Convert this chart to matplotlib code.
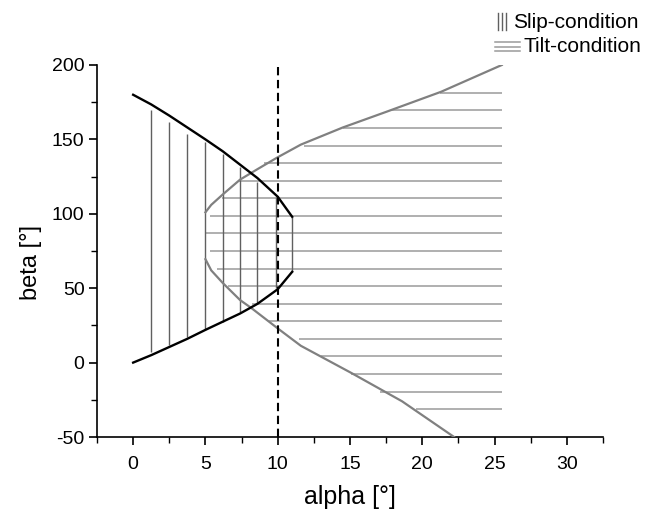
import matplotlib
matplotlib.use("Agg")
import matplotlib.pyplot as plt
from matplotlib.lines import Line2D
from matplotlib.ticker import MultipleLocator

plt.rcParams['font.family'] = ['Liberation Sans', 'DejaVu Sans']
plt.rcParams['axes.unicode_minus'] = False

# --- data ---
# slip-condition boundary (black)
slip_upper_alpha = [0, 1.25, 2.5, 3.75, 5, 6.2, 7.4, 8.6, 10, 11]
slip_upper_beta = [180, 173.5, 166, 158, 150, 142, 133, 124, 111.5, 98]
slip_lower_alpha = [0, 1.25, 2.5, 3.75, 5, 6.2, 7.4, 8.6, 10, 11]
slip_lower_beta = [0, 5, 10.5, 16, 22, 27.5, 33, 39.5, 49.3, 61]

# tilt-condition boundary (gray)
tilt_upper_alpha = [5, 5.4, 6.2, 7.4, 8.6, 10, 11.6, 14.5, 17.5, 21.3, 25.5]
tilt_upper_beta = [101, 106, 113, 123, 130, 138, 146.5, 158, 168.5, 182, 200]
tilt_lower_alpha = [5, 5.4, 6.2, 7.4, 8.2, 10, 11.6, 15.1, 18.6, 22.2]
tilt_lower_beta = [69.5, 62, 53.5, 42, 36.5, 23, 11.3, -7, -26, -50]

# slip hatching (vertical lines)
slip_alpha = [1.25, 2.5, 3.75, 5.0, 6.2, 7.4, 8.6, 9.85, 11.0]
slip_top = [170, 161.5, 153.5, 148.5, 140, 131.5, 121.5, 111.5, 98]
slip_bottom = [7, 12, 17, 22, 27.5, 34, 40, 50, 61]

# tilt hatching (horizontal lines)
tilt_beta = [181.4, 169.6, 157.7, 145.9, 134.1, 122.3, 110.5, 98.7, 86.8, 75.0,
             63.2, 51.4, 39.6, 27.8, 15.9, 4.1, -7.7, -19.5, -31.3]
tilt_start = [21.2, 17.9, 14.5, 11.8, 9.05, 7.3, 6.15, 5.35, 4.95, 5.35,
              5.8, 6.55, 8.25, 9.4, 11.5, 13.0, 15.05, 17.1, 19.55]
tilt_end = 25.5

limit_alpha = 10

xticks = [0, 5, 10, 15, 20, 25, 30]
yticks = [-50, 0, 50, 100, 150, 200]

# --- figure ---
fig = plt.figure(figsize=(6.46, 5.09), dpi=100)
ax = fig.add_axes([97/646, 1-437/509, (603-97)/646, (437-65)/509])

vcol = '#606060'
hcol = '#9a9a9a'
gcol = '#808080'

ax.vlines(slip_alpha, slip_bottom, slip_top, colors=vcol, lw=1.0, zorder=2)
ax.hlines(tilt_beta, tilt_start, tilt_end, colors=hcol, lw=1.1, zorder=1)

ax.plot(tilt_upper_alpha, tilt_upper_beta, color=gcol, lw=1.6, zorder=3)
ax.plot(tilt_lower_alpha, tilt_lower_beta, color=gcol, lw=1.6, zorder=3)
ax.plot(slip_upper_alpha, slip_upper_beta, color='black', lw=1.7, zorder=4)
ax.plot(slip_lower_alpha, slip_lower_beta, color='black', lw=1.7, zorder=4)

ax.axvline(limit_alpha, color='black', lw=1.5, dashes=(4, 2.2), zorder=5)

ax.set_xlim(-2.5, 32.5)
ax.set_ylim(-50, 200)
ax.set_xticks(xticks)
ax.set_yticks(yticks)
ax.xaxis.set_minor_locator(MultipleLocator(2.5))
ax.yaxis.set_minor_locator(MultipleLocator(25))
for s in ['top', 'right']:
    ax.spines[s].set_visible(False)
for s in ['left', 'bottom']:
    ax.spines[s].set_linewidth(1.2)
ax.tick_params(which='major', direction='out', length=6, width=1.2, labelsize=14)
ax.tick_params(which='minor', direction='out', length=4, width=1.0)
ax.tick_params(axis='x', pad=8)
ax.tick_params(axis='y', pad=3)

ax.set_xlabel('alpha [°]', fontsize=18)
ax.set_ylabel('beta [°]', fontsize=17)
ax.xaxis.set_label_coords(0.5, -0.128)
ax.yaxis.set_label_coords(-0.108, 0.47)

# legend (manual)
W, H = 646, 509
def fx(px):
    return px / W
def fy(py):
    return 1 - py / H
for px in [498, 502, 506]:
    fig.add_artist(Line2D([fx(px), fx(px)], [fy(13), fy(30)], color=vcol, lw=1.0))
for py in [42, 46.5, 51]:
    fig.add_artist(Line2D([fx(495), fx(520)], [fy(py), fy(py)], color=hcol, lw=1.1))
fig.text(fx(513), fy(22), 'Slip-condition', fontsize=15, va='center', ha='left')
fig.text(fx(524), fy(47), 'Tilt-condition', fontsize=15, va='center', ha='left')

fig.savefig('out.png', dpi=100, facecolor='white')
